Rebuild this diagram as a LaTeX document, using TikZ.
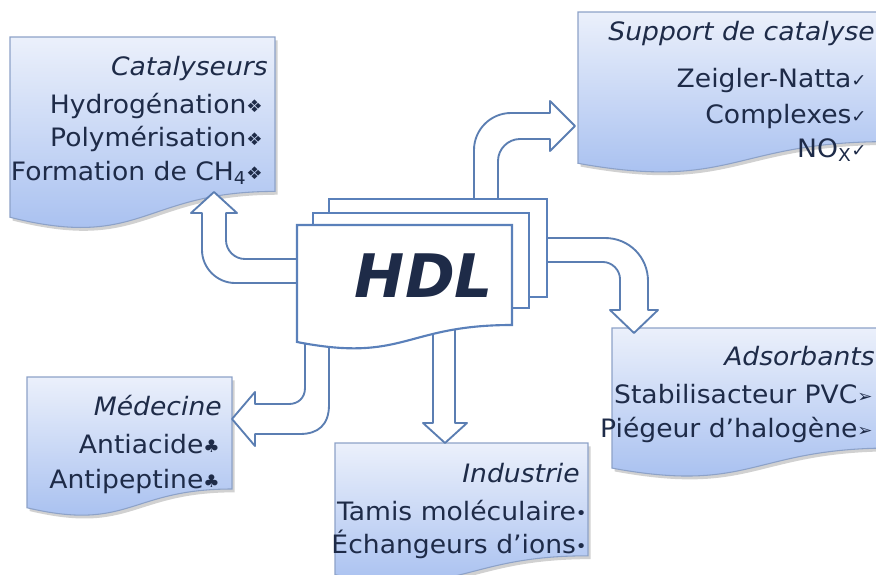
\documentclass[tikz,border=0pt]{standalone}
\usepackage{fontspec}
\setmainfont{DejaVu Sans}[FakeStretch=1.05]
\newfontfamily\hdlfont{DejaVu Sans}
\usetikzlibrary{shadows}
\definecolor{boxtop}{HTML}{EBF0FB}
\definecolor{boxbot}{HTML}{A2BCEF}
\definecolor{boxline}{HTML}{8DA2C8}
\definecolor{txt}{HTML}{1E2B48}
\definecolor{arrline}{HTML}{5B7EB2}
\definecolor{pageline}{HTML}{5A80BA}
\newcommand\smallsym[1]{{\fontsize{13}{13}\selectfont\raisebox{0.5pt}{#1}}}
% name, x, y, w, h  (pixel units)
\newcommand\mydocbox[5]{%
  \path[docbox] (#2,#3) -- ({#2+#4},#3) -- ({#2+#4},{#3+0.8*#5})
    .. controls ({#2+0.5*#4},{#3+0.8*#5}) and ({#2+0.5*#4},{#3+1.107*#5}) .. (#2,{#3+0.934*#5}) -- cycle;
  \coordinate (#1) at ({#2+0.5*#4},{#3+0.5*#5});
}
\tikzset{
  docbox/.style={draw=boxline, line width=0.8pt, top color=boxtop, bottom color=boxbot,
    drop shadow={shadow xshift=2pt, shadow yshift=-2.5pt, opacity=0.3, fill=black!60}},
  pagebox/.style={draw=pageline, line width=1.6pt, fill=white},
  blockarrow/.style={draw=arrline, line width=1.4pt, fill=white, line join=round},
  ttl/.style={font=\fontsize{19}{22}\selectfont\itshape, text=txt, anchor=base east, inner sep=0pt},
  itm/.style={font=\fontsize{19}{22}\selectfont, text=txt, anchor=base east, inner sep=0pt},
}
\begin{document}
\begin{tikzpicture}[x=0.75pt,y=-0.75pt]
\useasboundingbox (0,0) rectangle (876,575);

% document boxes
\mydocbox{catbox}{10}{37}{265}{193}
\mydocbox{supbox}{578}{12}{310}{162}
\mydocbox{adsbox}{612}{328}{280}{150}
\mydocbox{medbox}{27}{377}{205}{140}
\mydocbox{indbox}{335}{443}{253}{141}

% block arrows
\path[blockarrow] (310,259) -- (245,259) .. controls (234.5,259) and (226,250.5) .. (226,240)
  -- (226,213) -- (237,213) -- (214,192) -- (191,213) -- (202,213) -- (202,250)
  .. controls (202,268) and (217,283) .. (235,283) -- (310,283) -- cycle;
\path[blockarrow] (474,210) -- (474,150) .. controls (474,129.6) and (490.6,113) .. (511,113)
  -- (550,113) -- (550,101) -- (575,126) -- (550,151) -- (550,139) -- (520,139)
  .. controls (508,139) and (498,149) .. (498,161) -- (498,210) -- cycle;
\path[blockarrow] (535,238) -- (605,238) .. controls (629,238) and (648,257) .. (648,281)
  -- (648,310) -- (658,310) -- (634,333) -- (610,310) -- (620,310) -- (620,279)
  .. controls (620,270) and (612,262) .. (603,262) -- (535,262) -- cycle;
\path[blockarrow] (305,330) -- (305,388) .. controls (305,398) and (298,404) .. (289,404)
  -- (255,404) -- (255,392) -- (232,419) -- (255,446) -- (255,434) -- (300,434)
  .. controls (318,434) and (329,425) .. (329,405) -- (329,330) -- cycle;
\path[blockarrow] (433,320) -- (433,423) -- (423,423) -- (445,443) -- (467,423)
  -- (455,423) -- (455,320) -- cycle;

% HDL pages
\path[pagebox] (329,199) rectangle (547,297);
\path[pagebox] (313,213) rectangle (529,308);
\path[pagebox] (297,225) -- (512,225) -- (512,325)
  .. controls (404.5,325) and (404.5,363) .. (297,342) -- cycle;
\node[font=\hdlfont\fontsize{45}{50}\selectfont\bfseries\itshape, text=txt, anchor=base, inner sep=0pt] (hdl) at (424,297) {HDL};

% texts
\node[ttl] (t1) at (268,75) {Catalyseurs};
\node[itm] (t1a) at (263,113) {Hydrogénation\smallsym{❖}};
\node[itm] (t1b) at (263,146) {Polymérisation\smallsym{❖}};
\node[itm] (t1c) at (263,180) {Formation de CH\textsubscript{4}\smallsym{❖}};

\node[ttl] (t2) at (875,40) {Support de catalyse};
\node[itm] (t2a) at (867,87) {Zeigler-Natta\smallsym{✓}};
\node[itm] (t2b) at (867,123) {Complexes\smallsym{✓}};
\node[itm] (t2c) at (867,157) {NO\textsubscript{X}\smallsym{✓}};

\node[ttl] (t3) at (875,365) {Adsorbants};
\node[itm] (t3a) at (873,403) {Stabilisacteur PVC\smallsym{➢}};
\node[itm] (t3b) at (873,437) {Piégeur d'halogène\smallsym{➢}};

\node[ttl] (t4) at (222,415) {Médecine};
\node[itm] (t4a) at (220,453) {Antiacide\smallsym{♣}};
\node[itm] (t4b) at (220,488) {Antipeptine\smallsym{♣}};

\node[ttl] (t5) at (580,482) {Industrie};
\node[itm] (t5a) at (587,520) {Tamis moléculaire\smallsym{•}};
\node[itm] (t5b) at (587,553) {Échangeurs d'ions\smallsym{•}};
\end{tikzpicture}
\end{document}
